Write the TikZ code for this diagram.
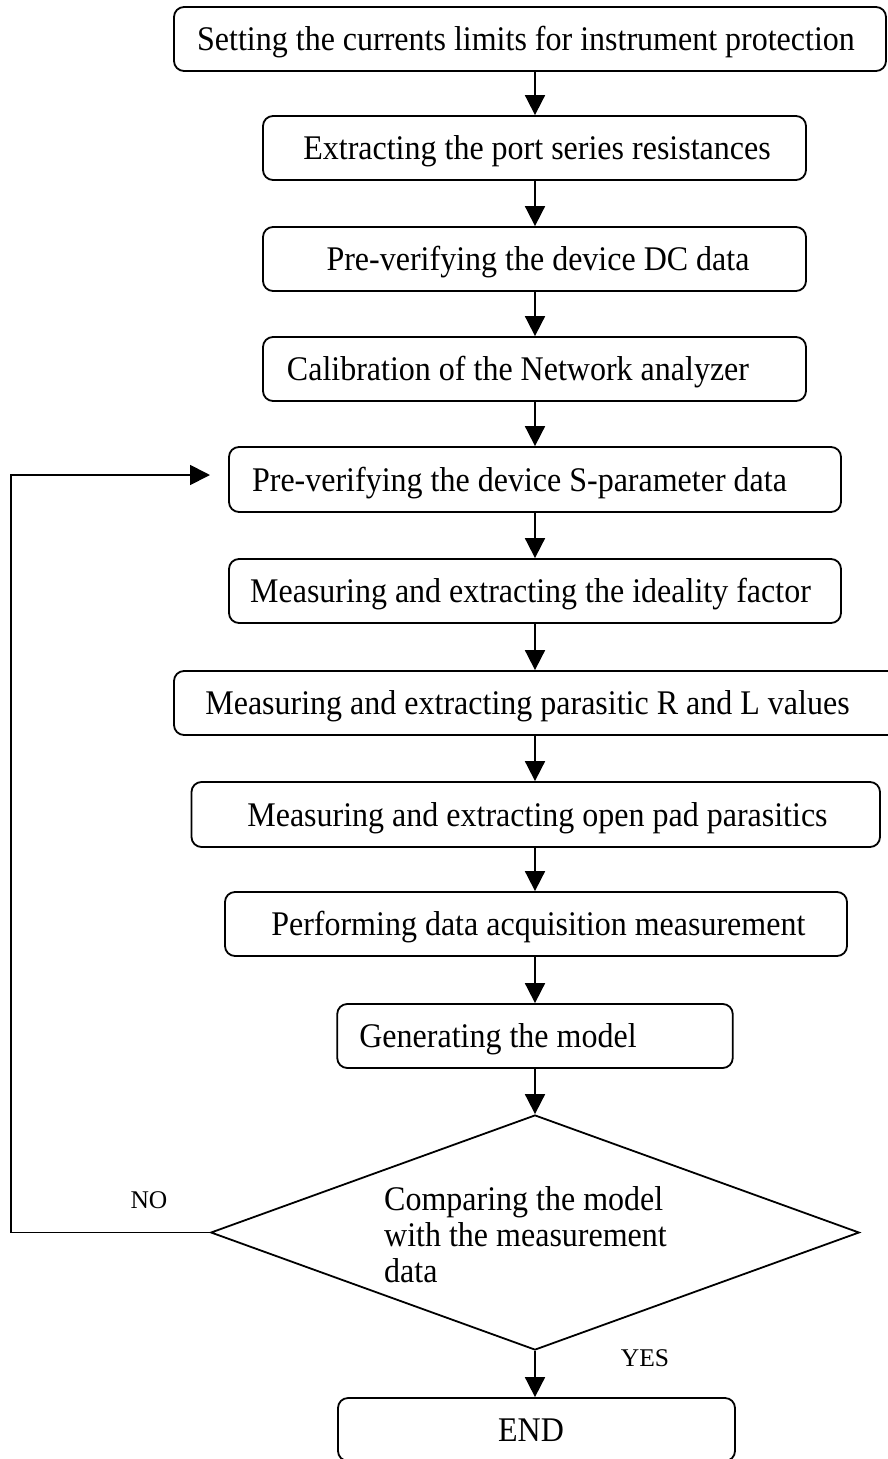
\documentclass[tikz,border=0pt]{standalone}
\usepackage{fontspec}
\usepackage{graphicx}
\setmainfont{Liberation Serif}
\usetikzlibrary{arrows.meta,shapes.geometric}
\newcommand\tallt[1]{\scalebox{1}[1.08]{#1}}
\begin{document}
\begin{tikzpicture}[x=1pt,y=-1pt,
  box/.style={draw, line width=1.8pt, rounded corners=10pt, inner sep=0pt, minimum height=64pt},
  txt/.style={inner sep=0pt, anchor=base, font=\fontsize{32}{36}\selectfont},
  lbl/.style={inner sep=0pt, anchor=base, font=\fontsize{25.5}{30}\selectfont},
  flow/.style={line width=1.8pt, -{Triangle[length=20pt,width=20pt]}}
  ]
\useasboundingbox (0,0) rectangle (887,1459);
\coordinate (col) at (535,0);

\node[box, minimum width=712pt] (b1) at (530,39) {};
\node[txt] (t1) at (526,50.5) {\tallt{Setting the currents limits for instrument protection}};

\node[box, minimum width=543pt] (b2) at (534.5,148) {};
\node[txt] (t2) at (537,159.5) {\tallt{Extracting the port series resistances}};

\node[box, minimum width=543pt] (b3) at (534.5,259) {};
\node[txt] (t3) at (538,270.5) {\tallt{Pre-verifying the device DC data}};

\node[box, minimum width=543pt] (b4) at (534.5,369) {};
\node[txt] (t4) at (518,380.5) {\tallt{Calibration of the Network analyzer}};

\node[box, minimum width=612pt, minimum height=65pt] (b5) at (535,479.5) {};
\node[txt] (t5) at (519.5,491) {\tallt{Pre-verifying the device S-parameter data}};

\node[box, minimum width=612pt] (b6) at (535,591) {};
\node[txt] (t6) at (530.5,602.5) {\tallt{Measuring and extracting the ideality factor}};

\node[box, minimum width=730pt] (b7) at (539,703) {};
\node[txt] (t7) at (527.5,714.5) {\tallt{Measuring and extracting parasitic R and L values}};

\node[box, minimum width=688.5pt, minimum height=65pt] (b8) at (535.75,814.5) {};
\node[txt] (t8) at (537.5,826) {\tallt{Measuring and extracting open pad parasitics}};

\node[box, minimum width=622pt] (b9) at (536,924) {};
\node[txt] (t9) at (538.3,935.5) {\tallt{Performing data acquisition measurement}};

\node[box, minimum width=395.5pt] (b10) at (535,1036) {};
\node[txt] (t10) at (498,1047.5) {\tallt{Generating the model}};

\node[draw, diamond, line width=1.8pt, inner sep=0pt, minimum width=648.5pt, minimum height=235pt] (d) at (535,1232.5) {};
\node[txt, anchor=base west] (td1) at (384,1210) {\tallt{Comparing the model}};
\node[txt, anchor=base west] (td2) at (384,1246) {\tallt{with the measurement}};
\node[txt, anchor=base west] (td3) at (384,1282) {\tallt{data}};

\node[box, minimum width=397pt, minimum height=63pt] (bend) at (536.5,1429.5) {};
\node[txt] (tend) at (531,1441.5) {\tallt{END}};

\node[lbl] (no) at (149,1208) {NO};
\node[lbl] (yes) at (645,1366.5) {YES};

\draw[flow] (col |- b1.south) -- (col |- b2.north);
\draw[flow] (col |- b2.south) -- (col |- b3.north);
\draw[flow] (col |- b3.south) -- (col |- b4.north);
\draw[flow] (col |- b4.south) -- (col |- b5.north);
\draw[flow] (col |- b5.south) -- (col |- b6.north);
\draw[flow] (col |- b6.south) -- (col |- b7.north);
\draw[flow] (col |- b7.south) -- (col |- b8.north);
\draw[flow] (col |- b8.south) -- (col |- b9.north);
\draw[flow] (col |- b9.south) -- (col |- b10.north);
\draw[flow] (col |- b10.south) -- (d.north);
\draw[flow] (d.south) -- (col |- bend.north);

\coordinate (c1) at (11,1232.5);
\coordinate (c2) at (11,475);
\coordinate (loopend) at (210,475);
\draw[flow] (d.west) -- (c1) -- (c2) -- (loopend);
\end{tikzpicture}
\end{document}
